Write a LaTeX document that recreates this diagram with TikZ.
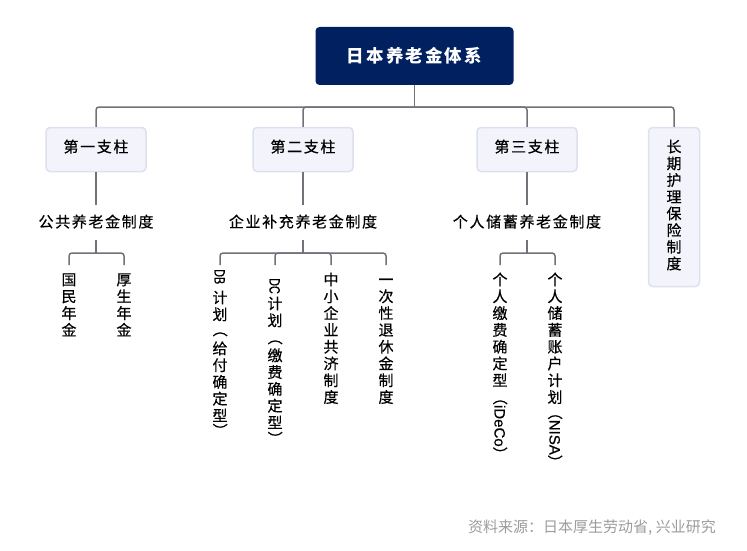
\documentclass[tikz,border=0pt]{standalone}
\usepackage{fontspec}
\usepackage{graphicx}
\setmainfont{Noto Sans CJK SC}
\newfontfamily\heavy{Noto Sans CJK SC}[FakeBold=0.5]
\newfontfamily\heavyspaced{Noto Sans CJK SC}[FakeBold=0.5,LetterSpace=11]
\newfontfamily\titlefont{Noto Sans CJK SC}[LetterSpace=12]
\newfontfamily\latinfont{Liberation Sans}[FakeBold=0.6]
\newcommand{\lead}[1]{\rule{0pt}{#1pt}}
\newcommand{\turned}[1]{\raisebox{0pt}[0pt][0pt]{\rotatebox{-90}{\raisebox{0pt}[13pt][2pt]{#1}}}}
\definecolor{navy}{HTML}{002060}
\definecolor{pillarfill}{HTML}{F3F4FB}
\definecolor{pillarline}{HTML}{DDE0EE}
\definecolor{linkgray}{HTML}{6F7278}
\definecolor{notegray}{HTML}{9C9C9C}
\begin{document}
\begin{tikzpicture} [
  x=1pt,
  y=-1pt,
  root node/.style= {rectangle,rounded corners=4,fill=navy,text=white,minimum width=198,minimum height=58,font=\fontsize{17.5}{20}\titlefont\bfseries},
  pillar node/.style= {rectangle,rounded corners=4,draw=pillarline,line width=1.5,fill=pillarfill,minimum width=100,minimum height=44,inner sep=0,text depth=7,font=\fontsize{15}{16.8}\heavyspaced},
  plan node/.style= {minimum height=34,inner sep=0,text depth=3,font=\fontsize{15}{16.8}\heavyspaced},
  leaf node/.style= {anchor=north,align=center,inner sep=0,font=\fontsize{15}{16.8}\heavy},
  link/.style= {draw=linkgray,line width=1.5,rounded corners=3},
]
\useasboundingbox (0,0) rectangle (747,551);
% top of the tree
\node (root) [root node] at (414.5,56) {日本养老金体系};
\node (first) [pillar node] at (96,149.5) {第一支柱};
\node (second) [pillar node] at (303,149.5) {第二支柱};
\node (third) [pillar node] at (527,149.5) {第三支柱};
\node (care) [pillar node,minimum width=51,minimum height=159,align=center,text depth=5,font=\fontsize{15}{16.7}\heavy] at (674,207) {长\\期\\护\\理\\保\\险\\制\\度};
\coordinate (topbar) at (414.5,107);
\draw [link] (root.south) -- (topbar);
\draw [link] (topbar) -| (first.north);
\draw [link] (topbar) -| (second.north);
\draw [link] (topbar) -| (third.north);
\draw [link] (topbar) -| (care.north);
% second row
\node (firstplan) [plan node] at (96,222.5) {公共养老金制度};
\node (secondplan) [plan node] at (303,222.5) {企业补充养老金制度};
\node (thirdplan) [plan node] at (527,222.5) {个人储蓄养老金制度};
\draw [link] (first.south) -- (firstplan.north);
\draw [link] (second.south) -- (secondplan.north);
\draw [link] (third.south) -- (thirdplan.north);
% vertical leaves
\node (kokumin) [leaf node] at (69,265) {\lead{20}国\\民\\年\\金};
\node (kosei) [leaf node] at (124,265) {\lead{20}厚\\生\\年\\金};
\node (dbplan) [leaf node] at (220,265) {\lead{4}\turned{\scalebox{0.72}[1]{\latinfont DB}}\\[17.2pt]计\\划\\[-14.8pt]\turned{（}\\[15.2pt]给\\付\\确\\定\\型\\[-14.8pt]\turned{）}};
\node (dcplan) [leaf node] at (275,265) {\lead{13}\turned{\scalebox{0.72}[1]{\latinfont DC}}\\[14.2pt]计\\划\\[-12.8pt]\turned{（}\\[14.2pt]缴\\费\\确\\定\\型\\[-13.8pt]\turned{）}};
\node (mutual) [leaf node] at (331,265) {\lead{20}中\\小\\企\\业\\共\\济\\制\\度};
\node (lump) [leaf node] at (386,265) {\lead{20}一\\次\\性\\退\\休\\金\\制\\度};
\node (ideco) [leaf node] at (500,265) {\lead{20}个\\人\\缴\\费\\确\\定\\型\\[-12.8pt]\turned{（{\latinfont iDeCo}）}};
\node (nisa) [leaf node] at (555,265) {\lead{20}个\\人\\储\\蓄\\账\\户\\计\\划\\[-14.8pt]\turned{（{\latinfont NISA}）}};
\coordinate (firstbar) at (96,253);
\coordinate (secondbar) at (303,253);
\coordinate (thirdbar) at (527,253);
\draw [link] (firstplan.south) -- (firstbar);
\draw [link] (firstbar) -| (kokumin.north);
\draw [link] (firstbar) -| (kosei.north);
\draw [link] (secondplan.south) -- (secondbar);
\draw [link] (secondbar) -| (dbplan.north);
\draw [link] (secondbar) -| (dcplan.north);
\draw [link] (secondbar) -| (mutual.north);
\draw [link] (secondbar) -| (lump.north);
\draw [link] (thirdplan.south) -- (thirdbar);
\draw [link] (thirdbar) -| (ideco.north);
\draw [link] (thirdbar) -| (nisa.north);
% source line
\node (source) [text=notegray,font=\fontsize{15}{18}\selectfont,inner sep=0] at (592,528) {资料来源：日本厚生劳动省, 兴业研究};
\end{tikzpicture}
\end{document}
